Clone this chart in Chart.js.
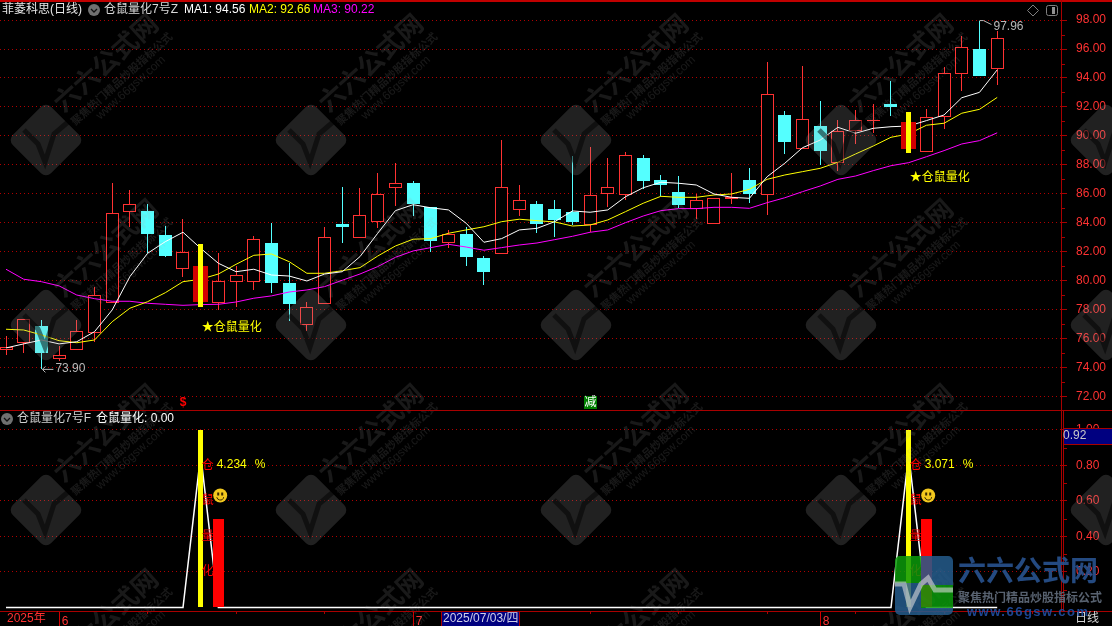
<!DOCTYPE html>
<html>
<head>
<meta charset="utf-8">
<style>
  html, body { margin: 0; padding: 0; background: #000; }
  canvas { display: block; }
</style>
<script src="https://cdn.jsdelivr.net/npm/chart.js@4/dist/chart.umd.js"></script>
</head>
<body>
<canvas id="klineChart" width="1112" height="626"></canvas>
<script>
// daily candles
const opens = [75.26,75.70,76.90,74.64,75.26,76.43,78.50,84.78,84.83,83.17,80.85,78.55,78.50,79.95,79.95,82.62,79.86,76.99,78.43,83.93,82.99,
  84.09,86.43,86.76,85.08,82.62,83.24,81.59,81.88,84.92,85.31,84.97,84.76,83.88,86.02,85.95,88.48,86.97,86.14,84.94,83.95,85.66,
  86.97,85.91,91.45,89.12,90.69,88.16,90.37,91.06,92.21,89.10,88.92,91.29,94.26,96.00,94.64];
const closes = [75.47,77.36,75.06,74.88,76.53,79.06,84.67,85.29,83.24,81.72,81.98,81.03,79.98,80.39,82.88,79.86,78.41,78.19,83.01,83.74,84.53,
  85.98,86.74,85.31,82.76,83.22,81.66,80.62,86.46,85.57,83.93,84.21,84.07,85.91,86.46,88.67,86.90,86.62,85.24,85.57,85.70,85.77,
  86.02,92.88,89.59,91.15,88.97,90.32,91.08,91.08,92.02,90.97,91.29,94.32,96.12,94.14,96.74];
const highs = [76.21,77.36,77.31,75.54,77.31,79.57,86.76,86.28,85.29,83.79,84.28,82.55,81.95,81.03,83.10,83.98,81.22,78.55,83.70,86.48,86.41,
  87.43,88.12,86.90,85.08,83.52,83.70,81.72,89.72,86.62,85.52,85.59,88.62,89.22,88.48,88.88,88.69,87.31,87.24,85.98,85.70,87.43,
  87.79,95.10,91.70,94.83,92.41,91.10,91.79,92.21,93.79,91.66,91.86,94.76,96.90,97.96,97.24];
const lows = [74.90,75.06,73.90,74.46,75.26,75.81,78.50,83.74,81.95,81.68,80.26,78.21,78.00,78.23,79.38,79.17,77.26,76.57,78.43,82.64,82.99,
  83.68,85.17,84.48,82.02,82.28,81.03,79.74,81.88,84.50,83.33,83.06,83.86,83.40,85.12,85.59,86.34,85.86,85.03,84.30,83.95,85.31,
  85.40,84.55,88.76,89.12,88.00,87.61,89.45,90.23,91.38,88.83,88.92,90.48,93.10,94.14,93.52];

const ma1 = [75.38,75.66,75.93,75.66,75.81,76.50,78.00,80.30,81.91,82.71,83.36,82.25,81.22,80.64,80.81,80.41,80.34,80.00,80.48,80.64,81.68,
  83.29,84.85,85.26,85.05,84.90,83.98,82.67,82.92,83.52,83.63,84.09,84.83,84.74,84.90,85.81,86.43,86.81,86.74,86.62,86.00,85.77,
  85.70,87.19,88.12,89.19,89.72,90.60,90.19,90.53,90.64,90.69,91.06,91.45,92.64,93.01,94.56];
const ma2 = [76.67,76.62,76.28,75.88,75.74,75.93,77.19,78.12,78.57,79.19,79.95,80.12,80.48,81.15,81.77,81.86,81.33,80.53,80.53,80.71,80.92,
  81.72,82.41,82.88,82.92,83.29,83.52,83.74,84.09,84.26,84.16,84.07,83.79,83.86,84.21,84.78,85.36,85.84,85.77,85.77,85.93,86.00,
  86.32,87.01,87.31,87.54,87.77,88.19,88.76,89.31,89.91,90.14,90.74,90.88,91.57,91.84,92.66];
const ma3 = [80.81,80.12,79.95,79.66,79.03,78.78,78.60,78.60,78.46,78.39,78.32,78.37,78.39,78.55,78.81,78.97,79.24,79.38,79.61,80.05,80.48,
  80.99,81.63,82.07,82.30,82.53,82.34,82.12,82.30,82.48,82.62,82.85,83.08,83.36,83.52,84.02,84.48,84.85,84.99,84.99,85.08,85.08,
  85.01,85.40,85.74,86.16,86.55,87.01,87.24,87.61,87.95,88.16,88.57,88.99,89.45,89.68,90.22];

// lower panel
const subLine = [0,0,0,0,0,0,0,0,0,0,0,0.86,0,0,0,0,0,0,0,0,0,
  0,0,0,0,0,0,0,0,0,0,0,0,0,0,0,0,0,0,0,0,0,
  0,0,0,0,0,0,0,0,0,0.86,0,0,0,0,0];
const signalIdx = [11, 51];
const signalTop = [1.0, 1.0];
const barIdx = [12, 52];
const barVals = [0.5, 0.5];
const pctLabels = ['4.234', '3.071'];
const notePrice = [76.76, 87.10];
const subChars = ['仓', '鼠', '量', '化'];
const subCharVals = [0.8, 0.6, 0.4, 0.2];

const priceTicks = [72,74,76,78,80,82,84,86,88,90,92,94,96,98];
const subTicks = [0.2,0.4,0.6,0.8,1.0];
const weekTicks = [3,8,13,18,23,28,33,38,43,46,48,53,58];
const monthLabels = {3: '6', 23: '7', 46: '8'};

const UP = '#ff3232', DOWN = '#54ffff', RULE = '#a80000', DOT = '#b00000';
const CJK = '"Liberation Sans", "Noto Sans CJK SC", sans-serif';

const isUp = i => closes[i] >= opens[i];
const xy = arr => arr.map((v, i) => ({x: i, y: v}));

const wicks = highs.map((h, i) => ({x: i, y: [lows[i], h]}));
const bodies = opens.map((o, i) => ({x: i, y: [o, closes[i]]}));

function lineSet(data, color, yAxisID, width) {
  return {type: 'line', data: xy(data), yAxisID, borderColor: color, borderWidth: width || 1,
    pointRadius: 0, tension: 0, order: 4};
}
function barSet(data, color, thickness, yAxisID, order) {
  return {type: 'bar', data, yAxisID, backgroundColor: color, borderColor: color, borderWidth: 0,
    barThickness: thickness, grouped: false, inflateAmount: 0, borderSkipped: false, order};
}

// keep bars on whole pixels so they stay crisp
const snapBars = {
  id: 'snapBars',
  afterDatasetsUpdate(chart) {
    chart.getSortedVisibleDatasetMetas().forEach(meta => {
      if (meta.type !== 'bar') return;
      meta.data.forEach(el => {
        el.x = Math.floor(el.x) + 0.5;
        el.y = Math.round(el.y);
        el.base = Math.round(el.base);
        if (el.base === el.y) el.base = el.y + 1;
      });
    });
  }
};

function text(ctx, str, x, y, color, font, align) {
  ctx.font = font || ('12px ' + CJK);
  ctx.fillStyle = color;
  ctx.textAlign = align || 'left';
  ctx.textBaseline = 'middle';
  ctx.fillText(str, x, y);
}

function hline(ctx, x0, x1, y, color) {
  ctx.fillStyle = color;
  ctx.fillRect(x0, y, x1 - x0, 1);
}

function watermark(ctx) {
  ctx.save();
  for (let row = 0; row < 4; row++) {
    for (let col = 0; col < 5; col++) {
      const cx = 46 + 265 * col, cy = 140 + 185 * row;
      ctx.save();
      ctx.translate(cx, cy);
      ctx.save();
      ctx.rotate(Math.PI / 4);
      ctx.beginPath();
      ctx.roundRect(-27, -27, 54, 54, 7);
      ctx.fillStyle = 'rgba(167,167,167,0.2)';
      ctx.fill();
      ctx.restore();
      ctx.beginPath();
      ctx.moveTo(-22, -10); ctx.lineTo(-8, 4); ctx.lineTo(-1, 22); ctx.lineTo(8, -6); ctx.lineTo(22, -18);
      ctx.lineWidth = 5;
      ctx.strokeStyle = 'rgba(0,0,0,0.5)';
      ctx.stroke();
      ctx.rotate(-42 * Math.PI / 180);
      ctx.fillStyle = 'rgba(167,167,167,0.15)';
      ctx.textAlign = 'center';
      ctx.textBaseline = 'middle';
      ctx.font = 'bold 26px "Noto Sans CJK SC"';
      ctx.fillText('六六公式网', 96, -18);
      ctx.font = 'bold 11px "Noto Sans CJK SC"';
      ctx.fillText('聚焦热门精品炒股指标公式', 97, 5);
      ctx.font = '12px "Liberation Sans"';
      ctx.fillText('www.66gsw.com', 98, 18);
      ctx.restore();
    }
  }
  ctx.restore();
}

function brandLogo(ctx) {
  ctx.save();
  ctx.beginPath();
  ctx.roundRect(895, 556, 58, 59, 5);
  ctx.clip();
  ctx.globalAlpha = 0.85;
  ctx.fillStyle = '#0a9a0a';
  ctx.fillRect(895, 556, 26, 27);
  ctx.fillRect(921, 585, 32, 23);
  ctx.fillStyle = '#245c8c';
  ctx.fillRect(895, 583, 26, 32);
  ctx.fillRect(921, 556, 32, 29);
  ctx.fillRect(921, 608, 32, 7);
  ctx.globalAlpha = 0.6;
  ctx.beginPath();
  ctx.moveTo(895, 584); ctx.lineTo(904, 584); ctx.lineTo(910, 607); ctx.lineTo(921, 584);
  ctx.lineTo(928, 578); ctx.lineTo(935, 590); ctx.lineTo(953, 590);
  ctx.lineWidth = 5;
  ctx.strokeStyle = '#d8d8d8';
  ctx.stroke();
  ctx.restore();

  ctx.save();
  ctx.textBaseline = 'middle';
  ctx.textAlign = 'left';
  ctx.globalAlpha = 0.92;
  ctx.fillStyle = '#27508c';
  ctx.font = 'bold 28px "Noto Sans CJK SC"';
  ctx.fillText('六六公式网', 958, 570);
  ctx.fillStyle = '#5f6a7a';
  ctx.font = 'bold 12px "Noto Sans CJK SC"';
  ctx.fillText('聚焦热门精品炒股指标公式', 958, 597);
  ctx.fillStyle = '#1f4ca0';
  ctx.font = 'bold 13px "Liberation Sans"';
  ctx.letterSpacing = '1.5px';
  ctx.fillText('www.66gsw.com', 967, 612);
  ctx.restore();
}

function smiley(ctx, x, y) {
  ctx.beginPath();
  ctx.arc(x, y, 7, 0, Math.PI * 2);
  ctx.fillStyle = '#f2c81e';
  ctx.fill();
  ctx.fillStyle = '#3a2a00';
  ctx.fillRect(x - 3, y - 3, 2, 3);
  ctx.fillRect(x + 1, y - 3, 2, 3);
  ctx.beginPath();
  ctx.arc(x, y + 1, 3.5, 0.2, Math.PI - 0.2);
  ctx.lineWidth = 1;
  ctx.strokeStyle = '#3a2a00';
  ctx.stroke();
}

function chevronDot(ctx, x, y) {
  ctx.beginPath();
  ctx.arc(x, y, 6, 0, Math.PI * 2);
  ctx.fillStyle = '#707070';
  ctx.fill();
  ctx.beginPath();
  ctx.moveTo(x - 3, y - 1); ctx.lineTo(x, y + 2); ctx.lineTo(x + 3, y - 1);
  ctx.lineWidth = 1.3;
  ctx.strokeStyle = '#111';
  ctx.stroke();
}

const overlays = {
  id: 'overlays',
  afterDatasetsDraw(chart) {
    watermark(chart.ctx);
  },
  afterDraw(chart) {
    const ctx = chart.ctx;
    const {x: xs, y: ys, ySub} = chart.scales;

    // frame lines
    ctx.save();
    hline(ctx, 0, 1112, 0, '#c00000');
    hline(ctx, 0, 1112, 1, '#c00000');
    hline(ctx, 0, 1112, 410, RULE);
    hline(ctx, 0, 1112, 611, RULE);
    ctx.fillStyle = RULE;
    ctx.fillRect(1061, 0, 1, 611);
    ctx.fillRect(1063, 411, 1, 200);

    // short ticks between the labelled ones
    for (let p = 73; p < 98; p += 2) {
      ctx.fillRect(1062, Math.round(ys.getPixelForValue(p)), 3, 1);
    }
    for (const v of [0.1, 0.3, 0.5, 0.7, 0.9]) {
      ctx.fillRect(1064, Math.round(ySub.getPixelForValue(v)), 3, 1);
    }

    // month separators on the date strip
    ctx.fillStyle = '#d00000';
    for (const m of Object.keys(monthLabels)) {
      ctx.fillRect(Math.floor(xs.getPixelForValue(+m)), 612, 1, 14);
    }

    // headers
    text(ctx, '菲菱科思(日线)', 2, 10, '#e8e8e8');
    chevronDot(ctx, 94, 10);
    text(ctx, '仓鼠量化7号Z', 104, 10, '#d8d8d8');
    text(ctx, 'MA1: 94.56', 184, 10, '#ffffff');
    text(ctx, 'MA2: 92.66', 249, 10, '#ffff00');
    text(ctx, 'MA3: 90.22', 313, 10, '#ff00ff');
    chevronDot(ctx, 7, 419);
    text(ctx, '仓鼠量化7号F', 17, 419, '#d0d0d0');
    text(ctx, '仓鼠量化: 0.00', 96, 419, '#ffffff');

    // window icons, top right
    ctx.strokeStyle = '#808080';
    ctx.lineWidth = 1;
    ctx.beginPath();
    ctx.moveTo(1033, 5); ctx.lineTo(1038.5, 10.5); ctx.lineTo(1033, 16); ctx.lineTo(1027.5, 10.5);
    ctx.closePath();
    ctx.stroke();
    ctx.beginPath();
    ctx.roundRect(1046.5, 5.5, 11, 10, 2);
    ctx.stroke();
    ctx.fillStyle = '#909090';
    ctx.fillRect(1052, 7, 3, 7);

    // high and low callouts
    const loX = xs.getPixelForValue(2), loY = ys.getPixelForValue(73.90);
    ctx.strokeStyle = '#b8b8b8';
    ctx.beginPath();
    ctx.moveTo(loX + 4, loY - 3); ctx.lineTo(loX + 1, loY); ctx.lineTo(loX + 12, loY);
    ctx.moveTo(loX + 1, loY); ctx.lineTo(loX + 4, loY + 3);
    ctx.stroke();
    text(ctx, '73.90', loX + 14, loY - 1, '#b8b8b8');
    const hiX = xs.getPixelForValue(55), hiY = ys.getPixelForValue(97.96);
    ctx.beginPath();
    ctx.moveTo(hiX, hiY); ctx.lineTo(hiX + 4, hiY); ctx.lineTo(hiX + 12, hiY + 4);
    ctx.stroke();
    text(ctx, '97.96', hiX + 14, hiY + 6, '#b8b8b8');

    // signal notes
    signalIdx.forEach((idx, n) => {
      const sx = xs.getPixelForValue(idx);
      text(ctx, '★仓鼠量化', sx + 1, ys.getPixelForValue(notePrice[n]), '#ffff00');
      subChars.forEach((ch, k) => {
        text(ctx, ch, sx + 7, ySub.getPixelForValue(subCharVals[k]), '#ff0000', null, 'center');
      });
      const py = ySub.getPixelForValue(0.8) - 1;
      text(ctx, pctLabels[n], sx + 16, py, '#ffff00');
      text(ctx, '%', sx + 54, py, '#ffff00');
      smiley(ctx, sx + 19.5, ySub.getPixelForValue(0.63));
    });

    // event markers sitting on the panel border
    text(ctx, '$', xs.getPixelForValue(10), 403, '#ff0000', 'bold 12px ' + CJK, 'center');
    ctx.fillStyle = '#008000';
    ctx.fillRect(584, 396, 13, 13);
    text(ctx, '减', 590.5, 402.5, '#ffffff', '12px ' + CJK, 'center');

    // current value box on the lower axis
    ctx.fillStyle = '#000080';
    ctx.fillRect(1064, 428, 48, 16);
    hline(ctx, 1064, 1112, 428, RULE);
    hline(ctx, 1064, 1112, 444, RULE);
    text(ctx, '0.92', 1063, 436, '#c8c8c8');

    // date strip
    text(ctx, '2025年', 7, 619, '#ff3232');
    ctx.fillStyle = '#000080';
    ctx.fillRect(442, 612, 78, 14);
    ctx.fillStyle = RULE;
    ctx.fillRect(441, 612, 1, 14);
    ctx.fillRect(519, 612, 1, 14);
    text(ctx, '2025/07/03/四', 443, 619, '#d0d0e8');
    text(ctx, '日线', 1087, 619, '#d8d8d8', '12px ' + CJK, 'center');

    brandLogo(ctx);
    ctx.restore();
  }
};

// tick labels must not push the panels away from the canvas edges
function fixAxisBox(scale) {
  scale.paddingTop = scale.paddingBottom = scale.paddingLeft = scale.paddingRight = 0;
  if (scale.isHorizontal()) scale.height = 15; else scale.width = 51;
}

new Chart(document.getElementById('klineChart'), {
  data: {
    datasets: [
      barSet(wicks, ctx => isUp(ctx.dataIndex) ? UP : DOWN, 1, 'y', 7),
      Object.assign(barSet(bodies, ctx => isUp(ctx.dataIndex) ? '#000000' : DOWN, 13, 'y', 6), {
        borderWidth: 1,
        borderColor: ctx => isUp(ctx.dataIndex) ? UP : DOWN
      }),
      lineSet(ma1, '#ffffff', 'y'),
      lineSet(ma2, '#ffff00', 'y'),
      lineSet(ma3, '#ff00ff', 'y'),
      barSet(signalIdx.map(i => ({x: i, y: [opens[i], closes[i]]})), '#d40000', 15, 'y', 3),
      barSet(signalIdx.map(i => ({x: i, y: [lows[i], highs[i]]})), '#ffff00', 5, 'y', 2),
      lineSet(subLine, '#ffffff', 'ySub', 1.5),
      barSet(signalIdx.map((i, n) => ({x: i, y: signalTop[n]})), '#ffff00', 5, 'ySub', 2),
      barSet(barIdx.map((i, n) => ({x: i, y: barVals[n]})), '#ff0000', 11, 'ySub', 2)
    ]
  },
  options: {
    responsive: false,
    animation: false,
    events: [],
    layout: {padding: 0},
    plugins: {legend: {display: false}, tooltip: {enabled: false}},
    scales: {
      x: {
        type: 'linear',
        offset: false,
        min: -0.339,
        max: 59.605,
        afterBuildTicks: s => { s.ticks = weekTicks.map(v => ({value: v})); },
        afterFit: fixAxisBox,
        grid: {offset: false, drawOnChartArea: false, tickLength: 3, tickColor: RULE},
        border: {display: false},
        ticks: {
          autoSkip: false,
          maxRotation: 0,
          padding: 0,
          labelOffset: 6,
          color: UP,
          font: {size: 12, family: CJK},
          callback: v => monthLabels[v] || ''
        }
      },
      y: {
        type: 'linear',
        position: 'right',
        stack: 'panels',
        stackWeight: 410,
        weight: 0,
        min: 71.1,
        max: 99.38,
        afterBuildTicks: s => { s.ticks = priceTicks.map(v => ({value: v})); },
        afterFit: fixAxisBox,
        grid: {color: DOT, tickColor: RULE, tickLength: 6},
        border: {display: false, dash: [1, 3]},
        ticks: {
          autoSkip: false,
          padding: 9,
          color: UP,
          font: {size: 12, family: CJK},
          callback: v => v.toFixed(2)
        }
      },
      ySub: {
        type: 'linear',
        position: 'right',
        stack: 'panels',
        stackWeight: 201,
        weight: 1,
        min: -0.0197,
        max: 1.111,
        afterBuildTicks: s => { s.ticks = subTicks.map(v => ({value: v})); },
        afterFit: fixAxisBox,
        grid: {color: DOT, tickColor: RULE, tickLength: 6},
        border: {display: false, dash: [1, 3]},
        ticks: {
          autoSkip: false,
          padding: 9,
          color: UP,
          font: {size: 12, family: CJK},
          callback: v => v.toFixed(2)
        }
      }
    }
  },
  plugins: [snapBars, overlays]
});
</script>
</body>
</html>
